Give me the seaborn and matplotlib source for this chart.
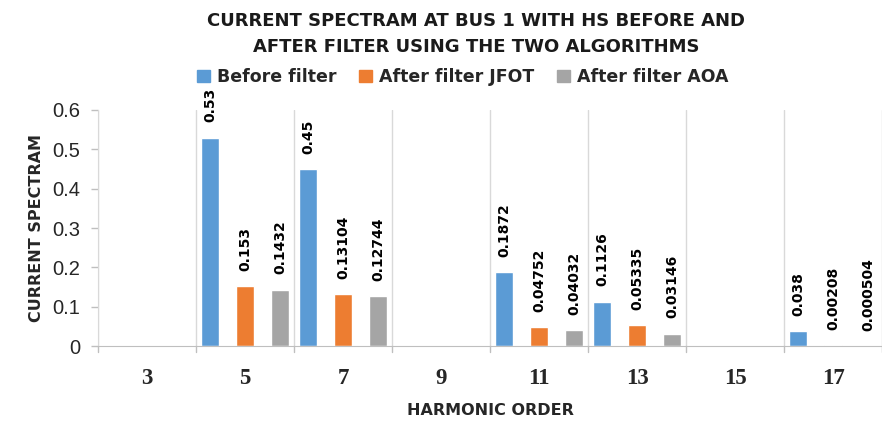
import numpy as np
import pandas as pd
import seaborn as sns
import matplotlib.pyplot as plt

ORDERS = ['3', '5', '7', '9', '11', '13', '15', '17']
BEFORE = [0, 0.53, 0.45, 0, 0.1872, 0.1126, 0, 0.038]
AFTER_JFOT = [0, 0.153, 0.13104, 0, 0.04752, 0.05335, 0, 0.00208]
AFTER_AOA = [0, 0.1432, 0.12744, 0, 0.04032, 0.03146, 0, 0.000504]
SERIES = ['Before filter', 'After filter JFOT', 'After filter AOA']
COLORS = ['#5B9BD5', '#ED7D31', '#A5A5A5']


def main():
    rows = []
    for name, vals in zip(SERIES, [BEFORE, AFTER_JFOT, AFTER_AOA]):
        for order, v in zip(ORDERS, vals):
            rows.append({'order': order, 'series': name, 'value': v})
    df = pd.DataFrame(rows)

    sns.set_style('white')
    plt.rcParams['font.family'] = ['DejaVu Sans']

    fig = plt.figure(figsize=(8.82, 4.23), dpi=100)
    ax = fig.add_axes([98 / 882, 1 - 346 / 423, 784 / 882, 236 / 423])

    g = sns.barplot(data=df, x='order', y='value', hue='series', order=ORDERS,
                    hue_order=SERIES, palette=COLORS, width=1.07, gap=0.47,
                    dodge=True, saturation=1, legend=False, ax=ax)

    for cont, vals in zip(g.containers, [BEFORE, AFTER_JFOT, AFTER_AOA]):
        labels = ['{:g}'.format(v) if v > 0 else '' for v in vals]
        g.bar_label(cont, labels=labels, rotation=90, padding=11,
                    fontsize=10, fontweight='bold', color='black')

    g.set_xlim(-0.5, 7.5)
    g.set_ylim(0, 0.6)
    g.set_yticks(np.arange(0, 0.61, 0.1))
    g.set_yticklabels(['0', '0.1', '0.2', '0.3', '0.4', '0.5', '0.6'],
                      family='Liberation Sans', fontsize=14.5, color='#262626')
    g.tick_params(axis='y', left=True, length=5, width=1, color='#BFBFBF', pad=8)
    g.set_xticks(range(len(ORDERS)))
    g.set_xticklabels(ORDERS, family='Liberation Serif', fontweight='bold', fontsize=16.5)
    g.tick_params(axis='x', length=0, pad=16)

    for b in np.arange(-0.5, 8, 1):
        ax.axvline(b, color='#D9D9D9', lw=1, zorder=0)
        ax.plot([b, b], [0, -0.016], color='#BFBFBF', lw=1, clip_on=False)

    for s in ['top', 'right']:
        ax.spines[s].set_visible(False)
    ax.spines['bottom'].set_color('#BFBFBF')
    ax.spines['left'].set_color('#D9D9D9')

    g.set_xlabel('HARMONIC ORDER', fontsize=11.5, fontweight='bold', labelpad=10)
    g.set_ylabel('CURRENT SPECTRAM', fontsize=11.5, fontweight='bold', labelpad=6)

    fig.text(476 / 882, 1 - 34 / 423,
             'CURRENT SPECTRAM AT BUS 1 WITH HS BEFORE AND\nAFTER FILTER USING THE TWO ALGORITHMS',
             ha='center', va='center', fontsize=13, fontweight='bold',
             linespacing=1.5, color='#1a1a1a')

    handles = [plt.Rectangle((0, 0), 1, 1, color=c) for c in COLORS]
    fig.legend(handles, SERIES, loc='center', bbox_to_anchor=(463 / 882, 1 - 77 / 423),
               ncol=3, frameon=False, handlelength=0.75, handleheight=0.75,
               handletextpad=0.4, columnspacing=1.3,
               prop={'weight': 'bold', 'size': 12.5})

    fig.savefig('out.png', dpi=100)


if __name__ == '__main__':
    main()
